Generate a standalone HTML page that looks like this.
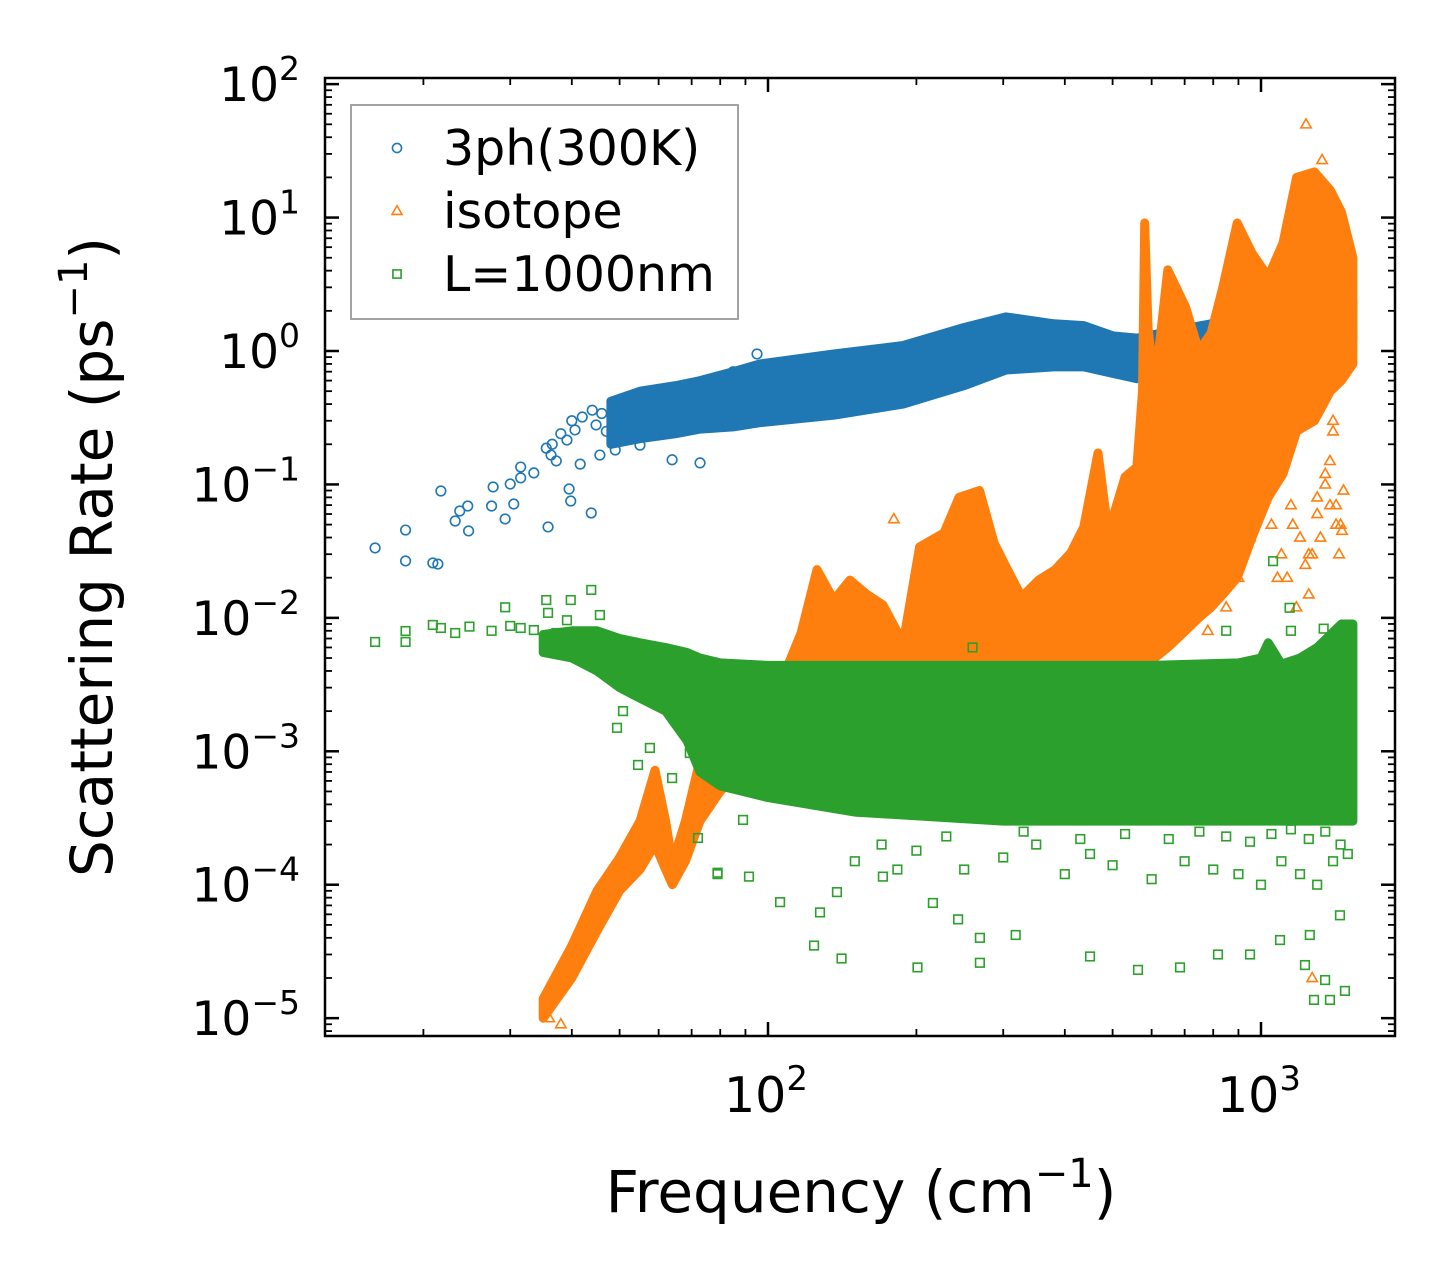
<!DOCTYPE html>
<html><head><meta charset="utf-8">
<style>
html,body{margin:0;padding:0;background:#fff;}
svg{display:block;font-family:"DejaVu Sans","Liberation Sans",sans-serif;}
</style></head>
<body>
<svg id="chart" width="1455" height="1286" viewBox="0 0 1455 1286" xmlns="http://www.w3.org/2000/svg">
<g id="data-layer"></g>
<g id="axes-layer"></g>
</svg>
<script>
// ---- data ----
const blueBandFreq = [48,55,65,72.8,85,96.3,136,188,250,304,380,437,500,560,650,792,900,1034,1150,1300,1536];
const blueBandLo   = [0.2,0.22,0.24,0.26,0.27,0.29,0.33,0.4,0.55,0.72,0.76,0.76,0.68,0.62,0.75,1.0,1.1,1.3,1.2,1.1,1.2];
const blueBandHi   = [0.42,0.5,0.55,0.6,0.7,0.8,0.95,1.1,1.5,1.8,1.6,1.55,1.3,1.25,1.4,1.6,2.1,3.0,2.6,2.4,2.4];
const blueFreq = [15.96,18.4,18.4,20.9,21.4,21.7,23.2,23.7,24.6,24.7,27.5,27.7,29.3,30.0,30.5,31.5,31.5,33.5,35.5,35.8,36.3,37.2,39.1,39.5,39.8,40.6,41.6,43.8,44.8,45.6,49.0,55.0,63.9,72.8,82.6,36.5,38,40,42,44,46,47,50,52,57,60,62,68,75,85,95,120,200,1300,1350];
const blueRate = [0.0334,0.0455,0.0267,0.0258,0.0253,0.0893,0.0532,0.0632,0.0689,0.0448,0.0689,0.0957,0.0551,0.1007,0.0713,0.135,0.112,0.122,0.187,0.048,0.166,0.15,0.215,0.0924,0.0751,0.256,0.142,0.0611,0.279,0.166,0.181,0.197,0.153,0.145,0.279,0.2,0.24,0.3,0.32,0.36,0.34,0.25,0.3,0.38,0.35,0.45,0.3,0.32,0.35,0.7,0.95,0.85,1.0,0.85,0.45];

const orangeBandFreq = [35,40,45,50,55,59,62,64,68,72.8,80,96,110,116.7,125.7,136,146.6,158.7,171,188,203,227.5,244,268.5,287.5,304,327,354,382,411,437,467,490,530,560,575,581,590,609,647,703,748,792,837,895,959,1034,1108,1181,1284,1383,1456,1536];
const orangeBandLo   = [1e-5,2e-5,4.5e-5,9e-5,1.3e-4,2e-4,1.3e-4,1e-4,1.5e-4,3e-4,5e-4,1e-3,1.5e-3,2e-3,2.2e-3,2.2e-3,2.2e-3,2.2e-3,2.2e-3,2.2e-3,2.5e-3,3e-3,3e-3,3e-3,3e-3,3e-3,2.5e-3,2.5e-3,2.5e-3,2.5e-3,3e-3,3e-3,3e-3,4e-3,4.5e-3,5e-3,5e-3,5e-3,5e-3,6e-3,8e-3,0.01,0.012,0.015,0.02,0.04,0.08,0.12,0.25,0.3,0.5,0.6,0.8];
const orangeBandHi   = [1.4e-5,3.5e-5,9e-5,1.6e-4,3e-4,7.2e-4,3e-4,1.46e-4,3e-4,8.6e-4,1.5e-3,3e-3,4.5e-3,7.7e-3,0.023,0.0136,0.0192,0.015,0.0125,0.0065,0.034,0.0433,0.08,0.09,0.0364,0.0241,0.0143,0.0192,0.0229,0.0306,0.048,0.172,0.0433,0.114,0.135,0.5,9.1,1.5,0.537,4.05,2.14,1.0,1.36,3.02,9.1,5.42,3.59,6.45,20,22,16,11,5];
const orangeFreq = [1234,1330,1400,1350,1380,1420,1300,1250,1270,180,1000,1150,800,36,38,1100,1130,1160,1180,1200,1230,1250,1270,1300,1320,1350,1380,1400,1420,1440,1450,1050,1080,950,900,850,820,780,750,1460,1470];
const orangeRate = [50,27,0.3,0.12,0.07,0.05,0.08,0.03,2e-5,0.055,0.1,0.07,0.015,1e-5,9e-6,0.03,0.02,0.05,0.012,0.04,0.025,0.015,0.03,0.06,0.04,0.1,0.15,0.25,0.07,0.03,0.05,0.05,0.02,0.04,0.02,0.012,0.015,0.008,0.02,0.045,0.09];

const greenBandFreq = [35,40,45,50,55,62,68.5,72.8,80,100,150,300,600,900,1000,1034,1100,1200,1300,1456,1536];
const greenBandLo   = [5.5e-3,5e-3,4e-3,3e-3,2.5e-3,2e-3,1.2e-3,7e-4,5.5e-4,4.5e-4,3.5e-4,3e-4,3e-4,3e-4,3e-4,3e-4,3e-4,3e-4,3e-4,3e-4,3e-4];
const greenBandHi   = [7.5e-3,8e-3,8e-3,7e-3,6.5e-3,6e-3,5.5e-3,5e-3,4.6e-3,4.4e-3,4.4e-3,4.4e-3,4.4e-3,4.6e-3,5e-3,6.5e-3,4.5e-3,5e-3,6e-3,9e-3,9e-3];
const greenFreq = [15.96,18.4,18.4,20.9,21.7,23.2,24.8,27.5,29.3,30,31.5,33.5,35.5,35.8,37.2,39.1,39.8,43.8,45.6,49.4,54.5,50.8,57.6,63.9,69.4,72.1,89,79,79,91.5,105.8,127.5,124,141,201,269,269,243,318,138,216,183,171,450,563,685,818,950,1093,1228,1256,1349,1380,1480,1446,1281,1058,1143,1340,260,850,1150,150,170,200,250,300,350,400,450,500,600,700,800,900,1000,1100,1200,1300,1400,1500,230,330,430,530,650,750,850,950,1050,1150,1250,1350,1450];
const greenRate = [6.6e-3,7.97e-3,6.6e-3,8.85e-3,8.4e-3,7.7e-3,8.6e-3,8e-3,0.012,8.7e-3,8.4e-3,8.1e-3,0.0136,0.0109,7.7e-3,9.6e-3,0.0136,0.0162,0.0105,1.5e-3,7.9e-4,2e-3,1.06e-3,6.3e-4,9.7e-4,2.24e-4,3.06e-4,1.23e-4,1.2e-4,1.15e-4,7.4e-5,6.2e-5,3.5e-5,2.8e-5,2.4e-5,2.6e-5,4e-5,5.5e-5,4.2e-5,8.8e-5,7.3e-5,1.3e-4,1.15e-4,2.9e-5,2.3e-5,2.4e-5,3e-5,3e-5,3.85e-5,2.5e-5,4.2e-5,1.93e-5,1.37e-5,1.6e-5,5.9e-5,1.37e-5,0.0266,0.0119,8.3e-3,6e-3,8e-3,8e-3,1.5e-4,2e-4,1.8e-4,1.3e-4,1.6e-4,2e-4,1.2e-4,1.7e-4,1.4e-4,1.1e-4,1.5e-4,1.3e-4,1.2e-4,1e-4,1.5e-4,1.2e-4,1e-4,1.5e-4,1.7e-4,2.3e-4,2.5e-4,2.2e-4,2.4e-4,2.2e-4,2.5e-4,2.3e-4,2.1e-4,2.4e-4,2.6e-4,2.2e-4,2.5e-4,2e-4];

const xTickVals = [100,1000];
const xTickLabels = ["2","3"];
const yTickExps = [2,1,0,-1,-2,-3,-4,-5];

// ---- axes ----
const L=325,R=1395,T=78,B=1036;
const X0=768, XD=493;
const Y0=351, YD=133.43;
const xS = f => X0 + (Math.log10(f)-2)*XD;
const yS = v => Y0 - Math.log10(v)*YD;
const NS="http://www.w3.org/2000/svg";
const dl=document.getElementById('data-layer');
const al=document.getElementById('axes-layer');
function mk(tag,attrs,parent){const e=document.createElementNS(NS,tag);for(const k in attrs)e.setAttribute(k,attrs[k]);parent.appendChild(e);return e;}

const C_BLUE="#1f77b4",C_OR="#ff7f0e",C_GR="#2ca02c";
function band(fr,lo,hi,color,name){
  let pts=[];
  for(let i=0;i<fr.length;i++)pts.push(xS(fr[i]).toFixed(1)+","+yS(hi[i]).toFixed(1));
  for(let i=fr.length-1;i>=0;i--)pts.push(xS(fr[i]).toFixed(1)+","+yS(lo[i]).toFixed(1));
  const p=mk('polygon',{points:pts.join(' '),fill:color,stroke:color,'stroke-width':9,'stroke-linejoin':'round'},dl);
  
  
}
function marker(kind,x,y,color,parent,s){
  s=s||1;let e;
  if(kind==='o') e=mk('circle',{cx:x,cy:y,r:4.8*s,fill:'none',stroke:color,'stroke-width':1.6},parent);
  else if(kind==='^'){const r=5.5*s;e=mk('polygon',{points:`${x},${y-r} ${x-r*0.95},${y+r*0.65} ${x+r*0.95},${y+r*0.65}`,fill:'none',stroke:color,'stroke-width':1.6},parent);}
  else {const r=4.3*s;e=mk('rect',{x:x-r,y:y-r,width:2*r,height:2*r,fill:'none',stroke:color,'stroke-width':1.6},parent);}
  return e;
}
function pts(fr,rt,kind,color,name){
  for(let i=0;i<fr.length;i++){
    const e=marker(kind,xS(fr[i]),yS(rt[i]),color,dl);
    
    
  }
}
band(blueBandFreq,blueBandLo,blueBandHi,C_BLUE,'3ph-dense-band');
pts(blueFreq,blueRate,'o',C_BLUE,'3ph-point');
band(orangeBandFreq,orangeBandLo,orangeBandHi,C_OR,'isotope-dense-band');
pts(orangeFreq,orangeRate,'^',C_OR,'isotope-point');
band(greenBandFreq,greenBandLo,greenBandHi,C_GR,'boundary-dense-band');
pts(greenFreq,greenRate,'s',C_GR,'boundary-point');

const fr=mk('rect',{x:L,y:T,width:R-L,height:B-T,fill:'none',stroke:'#000','stroke-width':2.5},al);


for(let d=1;d<=3;d++){for(let m=1;m<10;m++){
  const f=m*Math.pow(10,d); const x=xS(f);
  if(x<L||x>R)continue;
  const len=(m===1)?14:7;
  mk('line',{x1:x,y1:B,x2:x,y2:B-len,stroke:'#000','stroke-width':m===1?2.5:1.8},al);
  mk('line',{x1:x,y1:T,x2:x,y2:T+len,stroke:'#000','stroke-width':m===1?2.5:1.8},al);
}}
xTickVals.forEach((v,i)=>{
  const t=mk('text',{x:xS(v)-2,y:1112,'font-size':49,'text-anchor':'middle',fill:'#000'},al);
  t.innerHTML='10<tspan dy="-22" font-size="34">'+xTickLabels[i]+'</tspan>';
  
  
});
for(let d=-6;d<=2;d++){for(let m=1;m<10;m++){
  const v=m*Math.pow(10,d); const y=yS(v);
  if(y<T-0.5||y>B)continue;
  const len=(m===1)?14:7;
  mk('line',{x1:L,y1:y,x2:L+len,y2:y,stroke:'#000','stroke-width':m===1?2.5:1.8},al);
  mk('line',{x1:R,y1:y,x2:R-len,y2:y,stroke:'#000','stroke-width':m===1?2.5:1.8},al);
}}
yTickExps.forEach(e=>{
  const t=mk('text',{x:300,y:yS(Math.pow(10,e))+17,'font-size':47,'text-anchor':'end',fill:'#000'},al);
  t.innerHTML='10<tspan dy="-21" font-size="33">'+(e<0?'\u2212'+(-e):e)+'</tspan>';
  
  
});
const xt=mk('text',{x:861,y:1212,'font-size':58,'text-anchor':'middle',fill:'#000'},al);
xt.innerHTML='Frequency (cm<tspan dy="-25" font-size="40">\u22121</tspan><tspan dy="25">)</tspan>';

const yt=mk('text',{x:0,y:0,'font-size':58,'text-anchor':'middle',fill:'#000',transform:'translate(112,557) rotate(-90)'},al);
yt.innerHTML='Scattering Rate (ps<tspan dy="-25" font-size="40">\u22121</tspan><tspan dy="25">)</tspan>';


const lg=mk('g',{},al);

mk('rect',{x:351,y:105,width:387,height:214,fill:'#fff','fill-opacity':0.85,stroke:'#999','stroke-width':1.8},lg);
const legLabels=['3ph(300K)','isotope','L=1000nm'],legKinds=['o','^','s'],legCols=[C_BLUE,C_OR,C_GR];
for(let i=0;i<3;i++){
  const y=148+i*63;
  const m=marker(legKinds[i],397,y,legCols[i],lg,0.95);
  
  
  const t=mk('text',{x:443,y:y+17,'font-size':49,fill:'#000'},lg);
  t.textContent=legLabels[i];
  
  
}
</script>
</body></html>
